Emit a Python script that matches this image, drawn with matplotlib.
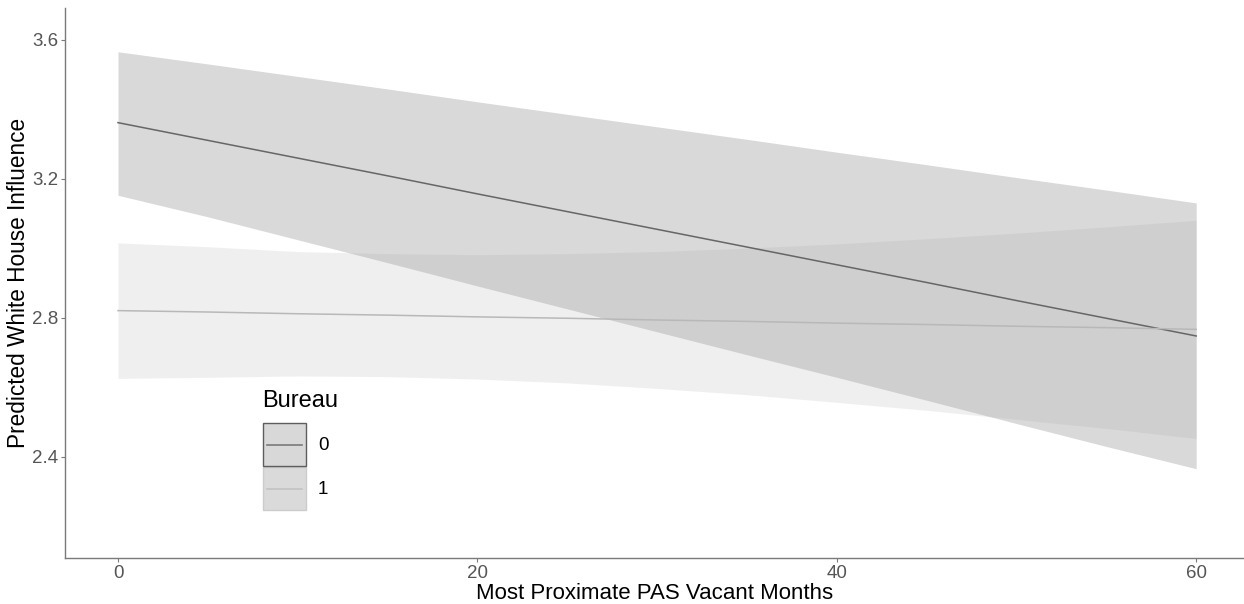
import numpy as np
import matplotlib
matplotlib.use("Agg")
import matplotlib.pyplot as plt
from matplotlib.patches import Rectangle
from matplotlib.lines import Line2D

plt.rcParams['font.family'] = ['Liberation Sans', 'DejaVu Sans']

# predicted values
months = [0, 5, 10, 15, 20, 25, 30, 35, 40, 45, 50, 55, 60]

fit_0 = [3.362, 3.311, 3.260, 3.209, 3.157, 3.106, 3.055, 3.004, 2.953, 2.902, 2.850, 2.799, 2.748]
upper_0 = [3.566, 3.531, 3.495, 3.459, 3.422, 3.386, 3.350, 3.314, 3.277, 3.241, 3.204, 3.168, 3.131]
lower_0 = [3.153, 3.091, 3.025, 2.959, 2.892, 2.826, 2.760, 2.694, 2.629, 2.563, 2.496, 2.430, 2.366]

fit_1 = [2.821, 2.817, 2.812, 2.808, 2.803, 2.799, 2.794, 2.790, 2.785, 2.781, 2.776, 2.772, 2.767]
upper_1 = [3.016, 3.005, 2.991, 2.985, 2.982, 2.985, 2.991, 3.001, 3.013, 3.028, 3.044, 3.062, 3.081]
lower_1 = [2.626, 2.629, 2.633, 2.631, 2.624, 2.613, 2.597, 2.579, 2.557, 2.534, 2.508, 2.482, 2.453]

groups = ['0', '1']

W, H = 1244, 604
fig = plt.figure(figsize=(W / 100, H / 100), dpi=100)
ax = fig.add_axes([65 / W, (H - 558) / H, 1 - 65 / W, 550 / H])

ax.fill_between(months, lower_0, upper_0, color='#d9d9d9', lw=0, zorder=1)
ax.fill_between(months, lower_1, upper_1, color='#9a9a9a', alpha=0.15, lw=0, zorder=2)
ax.plot(months, fit_0, color='#666666', lw=1.1, zorder=3)
ax.plot(months, fit_1, color='#b8b8b8', lw=1.1, zorder=4)

ax.set_xlim(-2.95, 62.66)
ax.set_ylim(2.109, 3.692)
ax.set_xticks([0, 20, 40, 60])
ax.set_yticks([2.4, 2.8, 3.2, 3.6])
ax.tick_params(colors='#7a7a7a', labelcolor='#555555', labelsize=13.5, length=3, width=0.8, pad=2)

for s in ['top', 'right']:
    ax.spines[s].set_visible(False)
for s in ['left', 'bottom']:
    ax.spines[s].set_color('#7a7a7a')
    ax.spines[s].set_linewidth(1.0)

ax.set_xlabel('Most Proximate PAS Vacant Months', fontsize=16, labelpad=1)
ax.set_ylabel('Predicted White House Influence', fontsize=16.3, labelpad=1)

# legend drawn by hand in figure pixels
def fx(px):
    return px / W

def fy(py):
    return (H - py) / H

key_fill = ['#d8d8d8', '#dadada']
key_edge = ['#5e5e5e', '#cccccc']
key_line = ['#7a7a7a', '#c2c2c2']
fig.text(fx(262), fy(401), 'Bureau', fontsize=17, ha='left', va='center')
for i, g in enumerate(groups):
    top = 423 + i * 44
    fig.add_artist(Rectangle((fx(263), fy(top + 43)), fx(43), 43 / H,
                             transform=fig.transFigure, facecolor=key_fill[i],
                             edgecolor=key_edge[i], lw=1.0, zorder=5 - i))
    fig.add_artist(Line2D([fx(267), fx(302)], [fy(top + 21.5)] * 2,
                          transform=fig.transFigure, color=key_line[i], lw=1.2, zorder=6))
    fig.text(fx(318), fy(top + 22), g, fontsize=13.5, ha='left', va='center')

fig.savefig('out.png', dpi=100)
